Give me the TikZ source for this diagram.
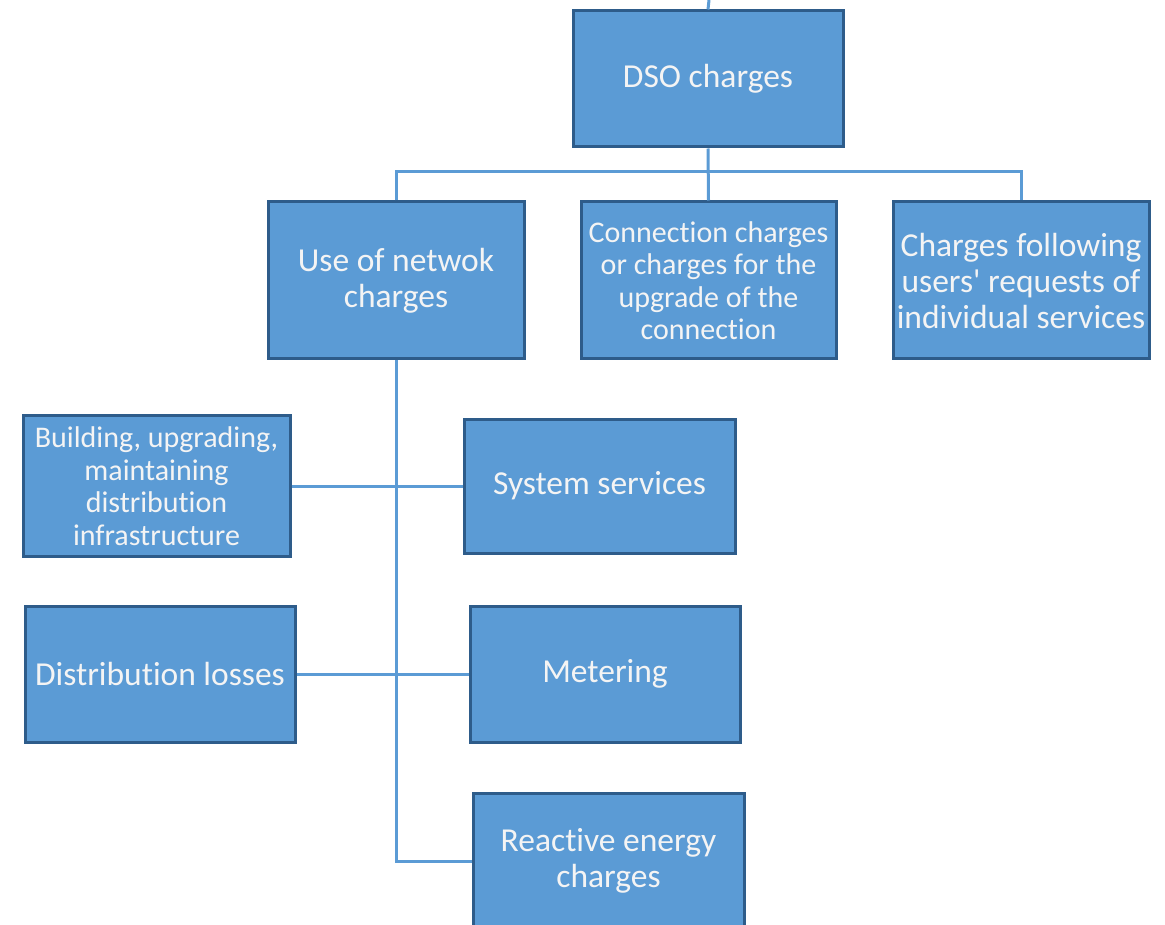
\documentclass[tikz,border=0pt]{standalone}
\usepackage{fontspec}
\setmainfont{Carlito}[Ligatures=NoCommon]
\definecolor{boxfill}{HTML}{5B9BD5}
\definecolor{boxline}{HTML}{2E5C8A}
\definecolor{conn}{HTML}{5B9BD5}
\definecolor{txt}{HTML}{F4F4F4}
\begin{document}
\begin{tikzpicture}[x=1pt,y=-1pt,
  box/.style={draw=boxline, fill=boxfill, line width=3pt, text=txt, align=center, inner sep=0pt},
  big/.style={font=\fontsize{33.5}{36}\selectfont},
  small/.style={font=\fontsize{30}{32.5}\selectfont},
  link/.style={draw=conn, line width=3pt}]
\useasboundingbox (0,0) rectangle (1165,925);
\clip (0,0) rectangle (1165,925);
\node[box,big,minimum width=270pt,minimum height=136pt] (dso) at (708,79) {DSO charges};
\node[box,big,minimum width=256pt,minimum height=157pt] (use) at (396,280.5) {Use of netwok\\charges};
\node[box,small,minimum width=255pt,minimum height=157pt] (con) at (708.5,280.5) {Connection charges\\or charges for the\\upgrade of the\\connection};
\node[box,big,minimum width=256pt,minimum height=157pt] (ind) at (1021,280.5) {Charges following\\users\textquotesingle{} requests of\\individual services};
\node[box,small,minimum width=267pt,minimum height=141pt] (bld) at (156.5,486) {Building, upgrading,\\maintaining\\distribution\\infrastructure};
\node[box,big,minimum width=271pt,minimum height=134pt] (sys) at (599.5,486) {System services};
\node[box,big,minimum width=270pt,minimum height=136pt] (los) at (160,674) {Distribution losses};
\node[box,big,minimum width=270pt,minimum height=136pt] (met) at (605,674) {Metering};
\node[box,big,minimum width=271pt,minimum height=136pt] (rea) at (608.5,861) {Reactive energy\\charges};
\coordinate (top) at (709,0);
\draw[link] (top) -- (dso.north);
\draw[link] (dso.south) -- (con.north);
\draw[link] (use.north) -- ++(0,-29) -| (ind.north);
\draw[link] (use.south) |- (rea.west);
\draw[link] (bld.east) -- (sys.west);
\draw[link] (los.east) -- (met.west);
\end{tikzpicture}
\end{document}
